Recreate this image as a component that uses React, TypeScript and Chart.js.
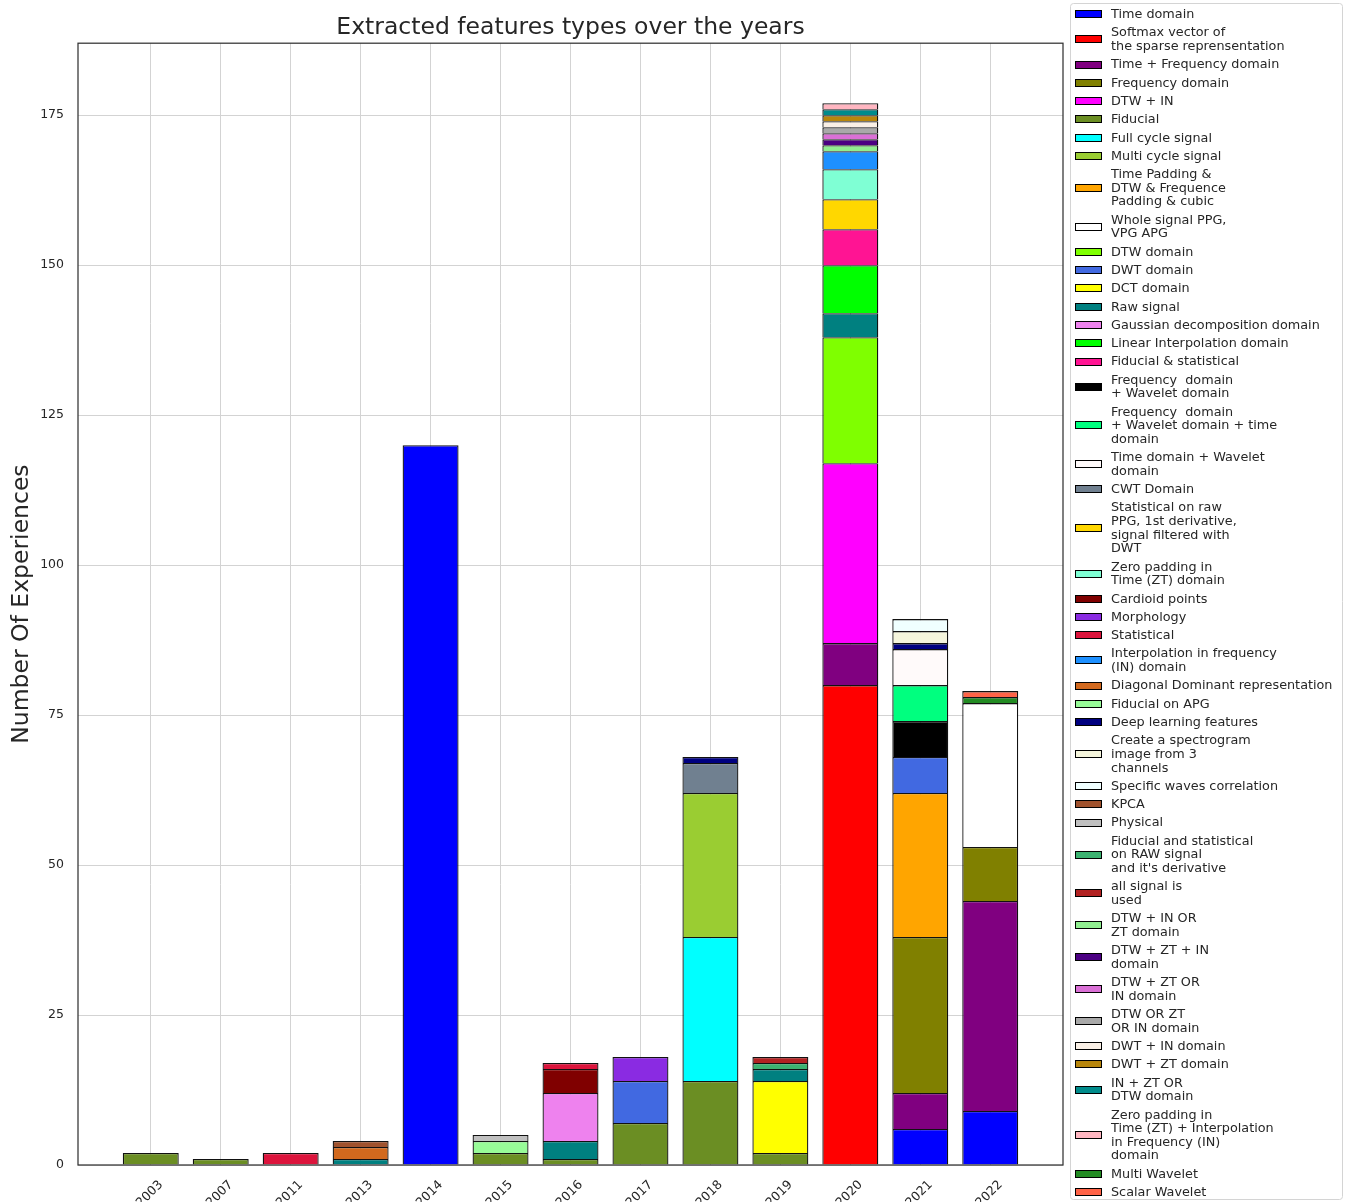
import React, { useEffect, useRef } from 'react';
import { Chart, registerables } from 'chart.js';

Chart.register(...registerables);

const years = ['2003', '2007', '2011', '2013', '2014', '2015', '2016', '2017', '2018', '2019', '2020', '2021', '2022'];

const yTicks = [0, 25, 50, 75, 100, 125, 150, 175];

const seriesLabels: string[][] = [
  ['Time domain'],
  ['Softmax vector of', 'the sparse reprensentation'],
  ['Time + Frequency domain'],
  ['Frequency domain'],
  ['DTW + IN'],
  ['Fiducial'],
  ['Full cycle signal'],
  ['Multi cycle signal'],
  ['Time Padding &', 'DTW & Frequence', 'Padding & cubic'],
  ['Whole signal PPG,', 'VPG APG'],
  ['DTW domain'],
  ['DWT domain'],
  ['DCT domain'],
  ['Raw signal'],
  ['Gaussian decomposition domain'],
  ['Linear Interpolation domain'],
  ['Fiducial & statistical'],
  ['Frequency  domain', '+ Wavelet domain'],
  ['Frequency  domain', '+ Wavelet domain + time', 'domain'],
  ['Time domain + Wavelet', 'domain'],
  ['CWT Domain'],
  ['Statistical on raw', 'PPG, 1st derivative,', 'signal filtered with', 'DWT'],
  ['Zero padding in', 'Time (ZT) domain'],
  ['Cardioid points'],
  ['Morphology'],
  ['Statistical'],
  ['Interpolation in frequency', '(IN) domain'],
  ['Diagonal Dominant representation'],
  ['Fiducial on APG'],
  ['Deep learning features'],
  ['Create a spectrogram', 'image from 3', 'channels'],
  ['Specific waves correlation'],
  ['KPCA'],
  ['Physical'],
  ['Fiducial and statistical', 'on RAW signal', "and it's derivative"],
  ['all signal is', 'used'],
  ['DTW + IN OR', 'ZT domain'],
  ['DTW + ZT + IN', 'domain'],
  ['DTW + ZT OR', 'IN domain'],
  ['DTW OR ZT', 'OR IN domain'],
  ['DWT + IN domain'],
  ['DWT + ZT domain'],
  ['IN + ZT OR', 'DTW domain'],
  ['Zero padding in', 'Time (ZT) + Interpolation', 'in Frequency (IN)', 'domain'],
  ['Multi Wavelet'],
  ['Scalar Wavelet'],
];

const seriesColors = [
  '#0000FF', '#FF0000', '#800080', '#808000', '#FF00FF', '#6B8E23', '#00FFFF', '#9ACD32',
  '#FFA500', '#FFFFFF', '#7FFF00', '#4169E1', '#FFFF00', '#008080', '#EE82EE', '#00FF00',
  '#FF1493', '#000000', '#00FF7F', '#FFFAFA', '#708090', '#FFD700', '#7FFFD4', '#800000',
  '#8A2BE2', '#DC143C', '#1E90FF', '#D2691E', '#98FB98', '#000080', '#F5F5DC', '#F0FFFF',
  '#A0522D', '#C0C0C0', '#3CB371', '#B22222', '#90EE90', '#4B0082', '#DA70D6', '#A9A9A9',
  '#FAF0E6', '#B8860B', '#008B8B', '#FFB6C1', '#228B22', '#FF6347',
];

// values per series, one entry per year (2003 ... 2022)
const seriesValues: number[][] = [
  [0, 0, 0, 0, 120, 0, 0, 0, 0, 0, 0, 6, 9],
  [0, 0, 0, 0, 0, 0, 0, 0, 0, 0, 80, 0, 0],
  [0, 0, 0, 0, 0, 0, 0, 0, 0, 0, 7, 6, 35],
  [0, 0, 0, 0, 0, 0, 0, 0, 0, 0, 0, 26, 9],
  [0, 0, 0, 0, 0, 0, 0, 0, 0, 0, 30, 0, 0],
  [2, 1, 0, 0, 0, 2, 1, 7, 14, 2, 0, 0, 0],
  [0, 0, 0, 0, 0, 0, 0, 0, 24, 0, 0, 0, 0],
  [0, 0, 0, 0, 0, 0, 0, 0, 24, 0, 0, 0, 0],
  [0, 0, 0, 0, 0, 0, 0, 0, 0, 0, 0, 24, 0],
  [0, 0, 0, 0, 0, 0, 0, 0, 0, 0, 0, 0, 24],
  [0, 0, 0, 0, 0, 0, 0, 0, 0, 0, 21, 0, 0],
  [0, 0, 0, 0, 0, 0, 0, 7, 0, 0, 0, 6, 0],
  [0, 0, 0, 0, 0, 0, 0, 0, 0, 12, 0, 0, 0],
  [0, 0, 0, 1, 0, 0, 3, 0, 0, 2, 4, 0, 0],
  [0, 0, 0, 0, 0, 0, 8, 0, 0, 0, 0, 0, 0],
  [0, 0, 0, 0, 0, 0, 0, 0, 0, 0, 8, 0, 0],
  [0, 0, 0, 0, 0, 0, 0, 0, 0, 0, 6, 0, 0],
  [0, 0, 0, 0, 0, 0, 0, 0, 0, 0, 0, 6, 0],
  [0, 0, 0, 0, 0, 0, 0, 0, 0, 0, 0, 6, 0],
  [0, 0, 0, 0, 0, 0, 0, 0, 0, 0, 0, 6, 0],
  [0, 0, 0, 0, 0, 0, 0, 0, 5, 0, 0, 0, 0],
  [0, 0, 0, 0, 0, 0, 0, 0, 0, 0, 5, 0, 0],
  [0, 0, 0, 0, 0, 0, 0, 0, 0, 0, 5, 0, 0],
  [0, 0, 0, 0, 0, 0, 4, 0, 0, 0, 0, 0, 0],
  [0, 0, 0, 0, 0, 0, 0, 4, 0, 0, 0, 0, 0],
  [0, 0, 2, 0, 0, 0, 1, 0, 0, 0, 0, 0, 0],
  [0, 0, 0, 0, 0, 0, 0, 0, 0, 0, 3, 0, 0],
  [0, 0, 0, 2, 0, 0, 0, 0, 0, 0, 0, 0, 0],
  [0, 0, 0, 0, 0, 2, 0, 0, 0, 0, 0, 0, 0],
  [0, 0, 0, 0, 0, 0, 0, 0, 1, 0, 0, 1, 0],
  [0, 0, 0, 0, 0, 0, 0, 0, 0, 0, 0, 2, 0],
  [0, 0, 0, 0, 0, 0, 0, 0, 0, 0, 0, 2, 0],
  [0, 0, 0, 1, 0, 0, 0, 0, 0, 0, 0, 0, 0],
  [0, 0, 0, 0, 0, 1, 0, 0, 0, 0, 0, 0, 0],
  [0, 0, 0, 0, 0, 0, 0, 0, 0, 1, 0, 0, 0],
  [0, 0, 0, 0, 0, 0, 0, 0, 0, 1, 0, 0, 0],
  [0, 0, 0, 0, 0, 0, 0, 0, 0, 0, 1, 0, 0],
  [0, 0, 0, 0, 0, 0, 0, 0, 0, 0, 1, 0, 0],
  [0, 0, 0, 0, 0, 0, 0, 0, 0, 0, 1, 0, 0],
  [0, 0, 0, 0, 0, 0, 0, 0, 0, 0, 1, 0, 0],
  [0, 0, 0, 0, 0, 0, 0, 0, 0, 0, 1, 0, 0],
  [0, 0, 0, 0, 0, 0, 0, 0, 0, 0, 1, 0, 0],
  [0, 0, 0, 0, 0, 0, 0, 0, 0, 0, 1, 0, 0],
  [0, 0, 0, 0, 0, 0, 0, 0, 0, 0, 1, 0, 0],
  [0, 0, 0, 0, 0, 0, 0, 0, 0, 0, 0, 0, 1],
  [0, 0, 0, 0, 0, 0, 0, 0, 0, 0, 0, 0, 1],
];

const FONT = "'DejaVu Sans', sans-serif";
const TEXT = '#262626';

export default function App() {
  const ref = useRef<HTMLCanvasElement>(null);

  useEffect(() => {
    const canvas = ref.current;
    if (!canvas) return;

    const framePlugin = {
      id: 'frame',
      afterDatasetsDraw(chart: any) {
        const { ctx, chartArea: a } = chart;
        ctx.save();
        ctx.strokeStyle = '#333333';
        ctx.lineWidth = 1.25;
        ctx.strokeRect(a.left, a.top, a.right - a.left, a.bottom - a.top);
        ctx.restore();
      },
    };

    const xLabelPlugin = {
      id: 'xlabels',
      afterDraw(chart: any) {
        const { ctx } = chart;
        const xs = chart.scales.x;
        ctx.save();
        ctx.font = `12.5px ${FONT}`;
        ctx.fillStyle = TEXT;
        ctx.textAlign = 'center';
        ctx.textBaseline = 'middle';
        years.forEach((y, i) => {
          const px = xs.getPixelForValue(i);
          ctx.save();
          ctx.translate(px - 1, 1194);
          ctx.rotate(-Math.PI / 4);
          ctx.fillText(y, 0, 0);
          ctx.restore();
        });
        ctx.restore();
      },
    };

    const legendPlugin = {
      id: 'customLegend',
      afterDraw(chart: any) {
        const { ctx } = chart;
        const L = 1070.5, T = 3.5, R = 1342.5, B = 1199.5, r = 3;
        ctx.save();
        ctx.beginPath();
        ctx.moveTo(L + r, T);
        ctx.lineTo(R - r, T);
        ctx.quadraticCurveTo(R, T, R, T + r);
        ctx.lineTo(R, B - r);
        ctx.quadraticCurveTo(R, B, R - r, B);
        ctx.lineTo(L + r, B);
        ctx.quadraticCurveTo(L, B, L, B - r);
        ctx.lineTo(L, T + r);
        ctx.quadraticCurveTo(L, T, L + r, T);
        ctx.closePath();
        ctx.fillStyle = 'rgba(255,255,255,0.9)';
        ctx.fill();
        ctx.strokeStyle = '#d4d4d4';
        ctx.lineWidth = 1;
        ctx.stroke();

        const lineH = 13.63;
        const pad = 4.67;
        let top = 5.15;
        ctx.font = `12.8px ${FONT}`;
        ctx.textBaseline = 'middle';
        ctx.textAlign = 'left';
        seriesLabels.forEach((lines, i) => {
          const h = lines.length * lineH + pad;
          const cy = top + h / 2;
          ctx.fillStyle = seriesColors[i];
          ctx.fillRect(1075.5, Math.round(cy) - 4, 26, 8);
          ctx.strokeStyle = '#000000';
          ctx.lineWidth = 1;
          ctx.strokeRect(1075.5, Math.round(cy) - 3.5, 26, 7);
          ctx.fillStyle = TEXT;
          lines.forEach((ln, k) => {
            const ly = cy + (k - (lines.length - 1) / 2) * lineH;
            ctx.fillText(ln, 1111, ly + 0.5);
          });
          top += h;
        });
        ctx.restore();
      },
    };

    const datasets = seriesLabels.map((lines, i) => ({
      label: lines.join(' '),
      data: years
        .map((_, j) => ({ x: j, y: seriesValues[i][j] }))
        .filter((p) => p.y > 0),
      backgroundColor: seriesColors[i],
      borderColor: '#111111',
      borderWidth: 1.3,
      categoryPercentage: 1,
      barPercentage: 0.8,
    }));

    const chart = new Chart(canvas, {
      type: 'bar',
      data: { datasets },
      plugins: [framePlugin, xLabelPlugin, legendPlugin],
      options: {
        animation: false,
        responsive: false,
        layout: { padding: { left: 0, right: 283, top: 0, bottom: 0 } },
        plugins: {
          legend: { display: false },
          tooltip: { enabled: false },
          title: {
            display: true,
            fullSize: false,
            text: 'Extracted features types over the years',
            color: TEXT,
            font: { family: FONT, size: 23.5, weight: 'normal' },
            padding: { top: 14, bottom: 1 },
          },
        },
        scales: {
          x: {
            type: 'linear',
            stacked: true,
            min: -1.04,
            max: 13.04,
            offset: false,
            afterBuildTicks: (s: any) => {
              s.ticks = years.map((_, i) => ({ value: i }));
            },
            afterFit: (s: any) => {
              s.height = 37;
            },
            ticks: { display: false },
            grid: { color: '#d3d3d3', lineWidth: 1, offset: false, drawTicks: false },
            border: { display: false },
          },
          y: {
            type: 'linear',
            stacked: true,
            min: 0,
            max: 187,
            afterBuildTicks: (s: any) => {
              s.ticks = yTicks.map((v) => ({ value: v }));
            },
            afterFit: (s: any) => {
              s.width = 78;
            },
            ticks: {
              color: TEXT,
              padding: 14,
              font: { family: FONT, size: 12.5 },
            },
            grid: { color: '#d3d3d3', lineWidth: 1, drawTicks: false },
            border: { display: false },
            title: {
              display: true,
              text: 'Number Of Experiences',
              color: TEXT,
              font: { family: FONT, size: 23.5, weight: 'normal' },
              padding: { top: 8, bottom: 0 },
            },
          },
        },
      } as any,
    });

    return () => chart.destroy();
  }, []);

  return (
    <div style={{ position: 'absolute', left: 0, top: 0, width: 1346, height: 1202, background: '#ffffff', overflow: 'hidden' }}>
      <canvas ref={ref} width={1346} height={1202} style={{ display: 'block' }} />
    </div>
  );
}
